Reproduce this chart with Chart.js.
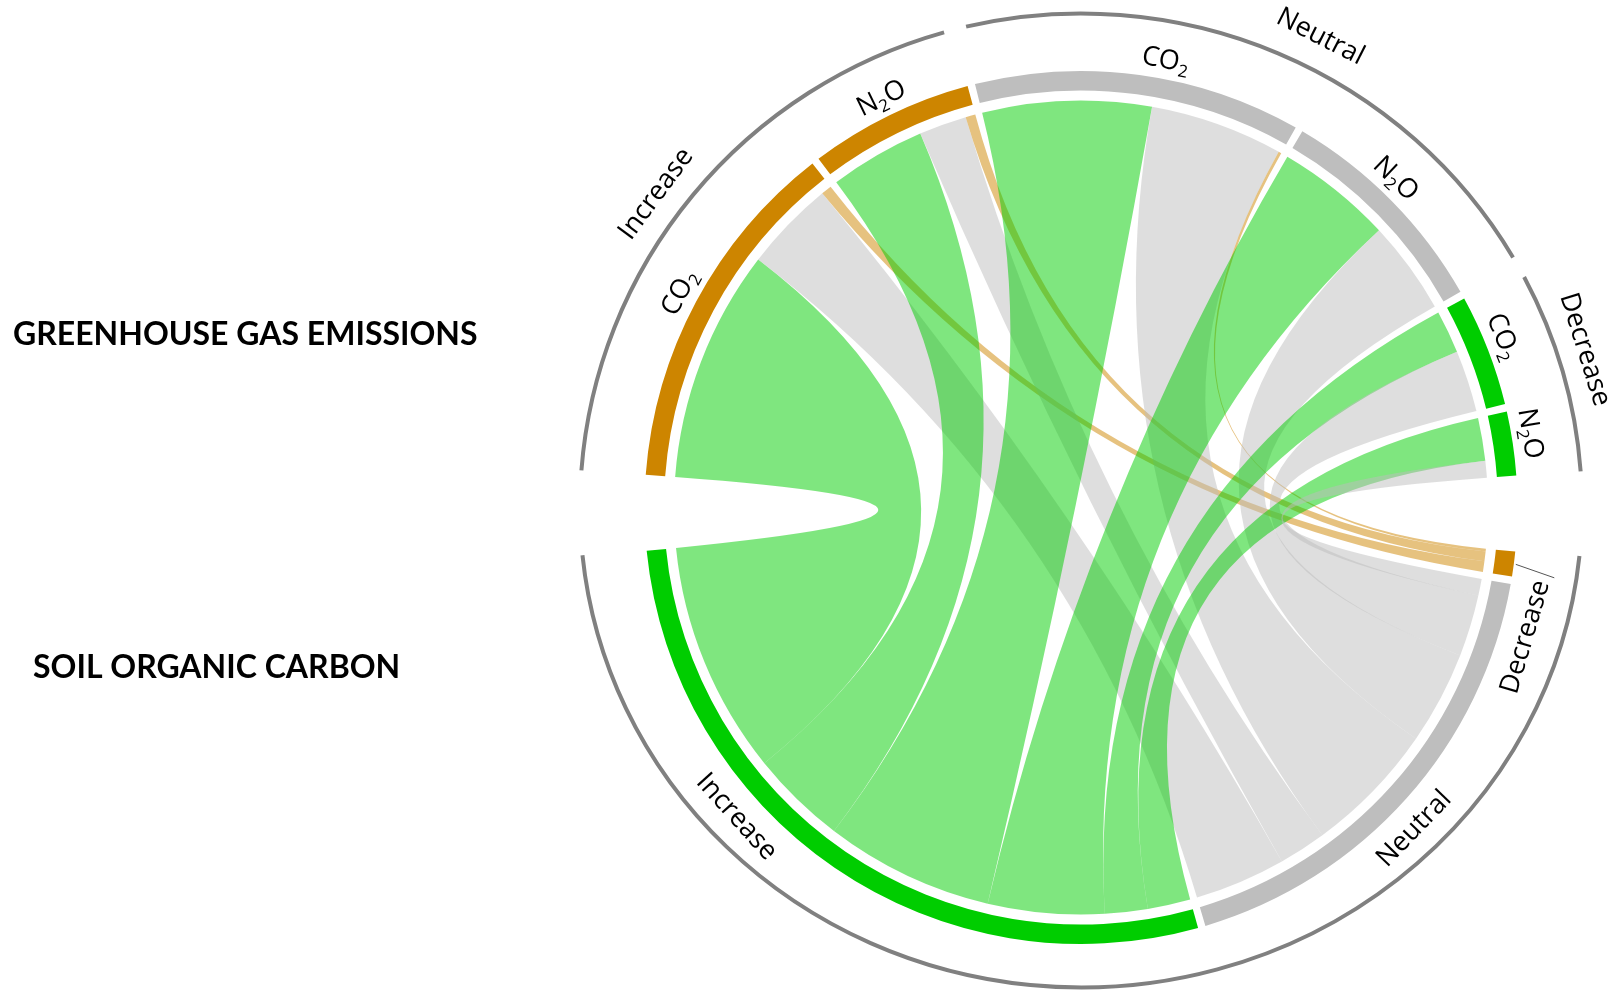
<!DOCTYPE html>
<html>
<head>
<meta charset="utf-8">
<title>GHG emissions vs soil organic carbon</title>
<script src="https://cdn.jsdelivr.net/npm/chart.js@4.4.1/dist/chart.umd.min.js"></script>
<style>
  html, body { margin: 0; padding: 0; background: #fff; overflow: hidden; }
  #wrap { width: 1614px; height: 992px; position: relative; }
</style>
</head>
<body>
<div id="wrap"><canvas id="chord"></canvas></div>
<script>
// greenhouse gas sectors, top half, clockwise from the left
const ghgGroups = ['Increase', 'Increase', 'Neutral', 'Neutral', 'Decrease', 'Decrease'];
const ghgGases = ['CO2', 'N2O', 'CO2', 'N2O', 'CO2', 'N2O'];
// soil organic carbon sectors, bottom half, clockwise from the right
const socGroups = ['Decrease', 'Neutral', 'Increase'];

// link widths: each GHG sector -> SOC response
const toSocIncrease = [33.2, 13.7, 24.1, 16.6, 6.1, 6.1];
const toSocNeutral = [13.0, 6.8, 19.0, 13.3, 8.8, 2.4];
const toSocDecrease = [1.5, 1.4, 0.4, 0, 0, 0];

const titles = ['GREENHOUSE GAS EMISSIONS', 'SOIL ORGANIC CARBON'];

// colours (R names: orange3, gray, green3)
const ORANGE = '#CD8500', GRAY = '#BEBEBE', GREEN = '#00CD00';
const ghgColour = { Increase: ORANGE, Neutral: GRAY, Decrease: GREEN };
const socColour = { Increase: GREEN, Neutral: GRAY, Decrease: ORANGE };
const ribbonColour = { Increase: 'rgba(0,205,0,0.5)', Neutral: 'rgba(190,190,190,0.5)', Decrease: 'rgba(205,133,0,0.5)' };

// layout
const SMALL_GAP = 1, BIG_GAP = 10;          // degrees
const ROTATION = -85.7;                     // start of first sector
const OUTER_R = 436.5, INNER_R = 417, LINK_PAD = 10;
const RING = { rx: 501, ryTop: 494, ryBottom: 480, trim: 0.8, width: 4, colour: '#808080' };
const FONT = '"Open Sans", "DejaVu Sans", sans-serif';
const LABEL_SIZE = 27;
const gasLabelR = 457, ghgGroupLabelR = 530, socLabelR = 461;
const gasNudge = [0, 0, -3, 1.7, 0.9, 0.9];                 // degrees, counter-clockwise
const ghgGroupNudge = { Increase: 2.8, Neutral: -3.8, Decrease: 1.4 };
const socNudge = { Decrease: -8.8, Neutral: -2.2, Increase: -13.7 };
const socPointer = { Decrease: true };

const socCols = { Increase: toSocIncrease, Neutral: toSocNeutral, Decrease: toSocDecrease };
const srcOrder = ['Increase', 'Neutral', 'Decrease'];

const ghgTotals = ghgGroups.map((g, i) => srcOrder.reduce((s, k) => s + socCols[k][i], 0));
const socTotals = socGroups.map(k => socCols[k].reduce((s, v) => s + v, 0));
const total = ghgTotals.reduce((s, v) => s + v, 0);
const unitsPerDeg = 2 * total / (360 - 7 * SMALL_GAP - 2 * BIG_GAP);

const segValues = [], segColours = [], segLabels = [];
ghgGroups.forEach((g, i) => {
  segValues.push(ghgTotals[i]); segColours.push(ghgColour[g]); segLabels.push(g + ' ' + ghgGases[i]);
  if (i < ghgGroups.length - 1) { segValues.push(SMALL_GAP * unitsPerDeg); segColours.push('rgba(0,0,0,0)'); segLabels.push(''); }
});
segValues.push(BIG_GAP * unitsPerDeg); segColours.push('rgba(0,0,0,0)'); segLabels.push('');
socGroups.forEach((g, j) => {
  segValues.push(socTotals[j]); segColours.push(socColour[g]); segLabels.push('SOC ' + g);
  if (j < socGroups.length - 1) { segValues.push(SMALL_GAP * unitsPerDeg); segColours.push('rgba(0,0,0,0)'); segLabels.push(''); }
});
segValues.push(BIG_GAP * unitsPerDeg); segColours.push('rgba(0,0,0,0)'); segLabels.push('');

const ghgIdx = ghgGroups.map((g, i) => 2 * i);
const socIdx = socGroups.map((g, j) => 2 * ghgGroups.length + 2 * j);

const rad = d => d * Math.PI / 180;

function drawLabel(ctx, text, cx, cy, ang, r, size) {
  const x = cx + r * Math.cos(ang), y = cy + r * Math.sin(ang);
  const top = Math.sin(ang) < 0;
  ctx.save();
  ctx.translate(x, y);
  ctx.rotate(top ? ang + Math.PI / 2 : ang - Math.PI / 2);
  const parts = text.split(/(\d)/).filter(Boolean).map(t => ({ t, sub: /^\d$/.test(t) }));
  const fMain = size + 'px ' + FONT, fSub = Math.round(size * 0.62) + 'px ' + FONT;
  let w = 0;
  parts.forEach(p => { ctx.font = p.sub ? fSub : fMain; p.w = ctx.measureText(p.t).width; w += p.w; });
  let px = -w / 2;
  const base = size * 0.36;
  ctx.fillStyle = '#000';
  ctx.textAlign = 'left';
  ctx.textBaseline = 'alphabetic';
  parts.forEach(p => {
    ctx.font = p.sub ? fSub : fMain;
    ctx.fillText(p.t, px, p.sub ? base + size * 0.2 : base);
    px += p.w;
  });
  ctx.restore();
}

const chordPlugin = {
  id: 'chord',
  beforeDatasetsDraw(chart) {
    const ctx = chart.ctx;
    const arcs = chart.getDatasetMeta(0).data;
    const cx = arcs[0].x, cy = arcs[0].y;
    const r = arcs[0].innerRadius - LINK_PAD;

    // link ends on GHG sectors (Increase, Neutral, Decrease order)
    const src = {};
    ghgGroups.forEach((g, i) => {
      const a = arcs[ghgIdx[i]];
      const k = (a.endAngle - a.startAngle) / ghgTotals[i];
      let pos = a.startAngle;
      srcOrder.forEach(s => {
        const v = socCols[s][i];
        src[i + s] = [pos, pos + v * k];
        pos += v * k;
      });
    });
    // link ends on SOC sectors (GHG sectors in reverse order)
    const dst = {};
    socGroups.forEach((s, j) => {
      const a = arcs[socIdx[j]];
      const k = (a.endAngle - a.startAngle) / socTotals[j];
      let pos = a.startAngle;
      for (let i = ghgGroups.length - 1; i >= 0; i--) {
        const v = socCols[s][i];
        dst[i + s] = [pos, pos + v * k];
        pos += v * k;
      }
    });

    ctx.save();
    ghgGroups.forEach((g, i) => {
      srcOrder.forEach(s => {
        if (!socCols[s][i]) return;
        const [s0, s1] = src[i + s], [t0, t1] = dst[i + s];
        ctx.beginPath();
        ctx.arc(cx, cy, r, s0, s1);
        ctx.quadraticCurveTo(cx, cy, cx + r * Math.cos(t0), cy + r * Math.sin(t0));
        ctx.arc(cx, cy, r, t0, t1);
        ctx.quadraticCurveTo(cx, cy, cx + r * Math.cos(s0), cy + r * Math.sin(s0));
        ctx.closePath();
        ctx.fillStyle = ribbonColour[s];
        ctx.fill();
      });
    });
    ctx.restore();
  },
  afterDatasetsDraw(chart) {
    const ctx = chart.ctx;
    const arcs = chart.getDatasetMeta(0).data;
    const cx = arcs[0].x, cy = arcs[0].y;
    const outer = arcs[0].outerRadius;

    // group rings
    ctx.save();
    ctx.strokeStyle = RING.colour;
    ctx.lineWidth = RING.width;
    const groupsTop = [...new Set(ghgGroups)];
    groupsTop.forEach((g, n) => {
      const idx = ghgGroups.map((x, i) => x === g ? i : -1).filter(i => i >= 0);
      let a0 = arcs[ghgIdx[idx[0]]].startAngle, a1 = arcs[ghgIdx[idx[idx.length - 1]]].endAngle;
      if (n > 0) a0 += rad(RING.trim);
      if (n < groupsTop.length - 1) a1 -= rad(RING.trim);
      ctx.beginPath();
      ctx.ellipse(cx, cy, RING.rx, RING.ryTop, 0, a0, a1);
      ctx.stroke();
      const mid = (a0 + a1) / 2 - rad(ghgGroupNudge[g]);
      drawLabel(ctx, g, cx, cy, mid, ghgGroupLabelR, LABEL_SIZE);
    });
    const s0 = arcs[socIdx[0]].startAngle, s1 = arcs[socIdx[socIdx.length - 1]].endAngle;
    ctx.beginPath();
    ctx.ellipse(cx, cy, RING.rx, RING.ryBottom, 0, s0, s1);
    ctx.stroke();
    ctx.restore();

    // sector labels
    ghgGases.forEach((gas, i) => {
      const a = arcs[ghgIdx[i]];
      drawLabel(ctx, gas, cx, cy, (a.startAngle + a.endAngle) / 2 - rad(gasNudge[i]), gasLabelR, LABEL_SIZE);
    });
    socGroups.forEach((g, j) => {
      const a = arcs[socIdx[j]];
      const mid = (a.startAngle + a.endAngle) / 2;
      drawLabel(ctx, g, cx, cy, mid - rad(socNudge[g]), socLabelR, LABEL_SIZE);
      if (socPointer[g]) {
        ctx.save();
        ctx.strokeStyle = '#555';
        ctx.lineWidth = 1;
        ctx.beginPath();
        ctx.moveTo(cx + (outer + 2) * Math.cos(mid), cy + (outer + 2) * Math.sin(mid));
        ctx.lineTo(cx + (outer + 42) * Math.cos(mid + rad(1)), cy + (outer + 42) * Math.sin(mid + rad(1)));
        ctx.stroke();
        ctx.restore();
      }
    });

    // side titles
    ctx.save();
    ctx.fillStyle = '#000';
    ctx.textAlign = 'left';
    ctx.textBaseline = 'alphabetic';
    ctx.font = 'bold 32px Lato, "Open Sans", sans-serif';
    ctx.fillText(titles[0], 13, 345);
    ctx.fillText(titles[1], 33, 678);
    ctx.restore();
  }
};

new Chart(document.getElementById('chord'), {
  type: 'doughnut',
  data: {
    labels: segLabels,
    datasets: [{
      data: segValues,
      backgroundColor: segColours,
      borderWidth: 0,
      hoverOffset: 0
    }]
  },
  options: {
    responsive: true,
    maintainAspectRatio: false,
    animation: false,
    events: [],
    rotation: ROTATION,
    radius: OUTER_R,
    cutout: INNER_R,
    layout: { padding: { left: 644.5, right: 96.5, top: 71, bottom: 48 } },
    plugins: { legend: { display: false }, tooltip: { enabled: false } }
  },
  plugins: [chordPlugin]
});
</script>
</body>
</html>
